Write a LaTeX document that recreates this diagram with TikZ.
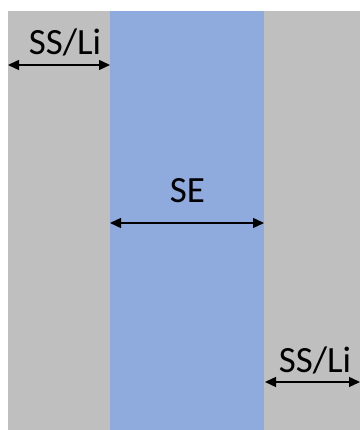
\documentclass[tikz,border=0pt]{standalone}
\usepackage{fontspec}
\setmainfont{Carlito}
\usetikzlibrary{arrows.meta}
\definecolor{ssgray}{HTML}{BFBFBF}
\definecolor{seblue}{HTML}{8FAADC}
\begin{document}
\begin{tikzpicture}[x=1pt,y=1pt,
  dim/.style={{Triangle[length=11pt,width=10pt]}-{Triangle[length=11pt,width=10pt]},line width=1.4pt,black},
  lbl/.style={anchor=base,inner sep=0pt,font=\fontsize{37}{44}\selectfont}]
\useasboundingbox (0,0) rectangle (360,430);
\clip (0,0) rectangle (360,430);
\fill[ssgray] (8,0) rectangle (110,419);
\fill[seblue] (110,0) rectangle (264,419);
\fill[ssgray] (264,0) rectangle (360,419);
\coordinate (l1) at (8,365);
\coordinate (l2) at (110,365);
\coordinate (m1) at (110,207);
\coordinate (m2) at (264,207);
\coordinate (r1) at (265,48);
\coordinate (r2) at (360,48);
\draw[dim] (l1) -- (l2);
\draw[dim] (m1) -- (m2);
\draw[dim] (r1) -- (r2);
\node[lbl] (tl) at (65,375) {SS/Li};
\node[lbl] (tm) at (187.5,227) {SE};
\node[lbl] (tr) at (315,57) {SS/Li};
\end{tikzpicture}
\end{document}
